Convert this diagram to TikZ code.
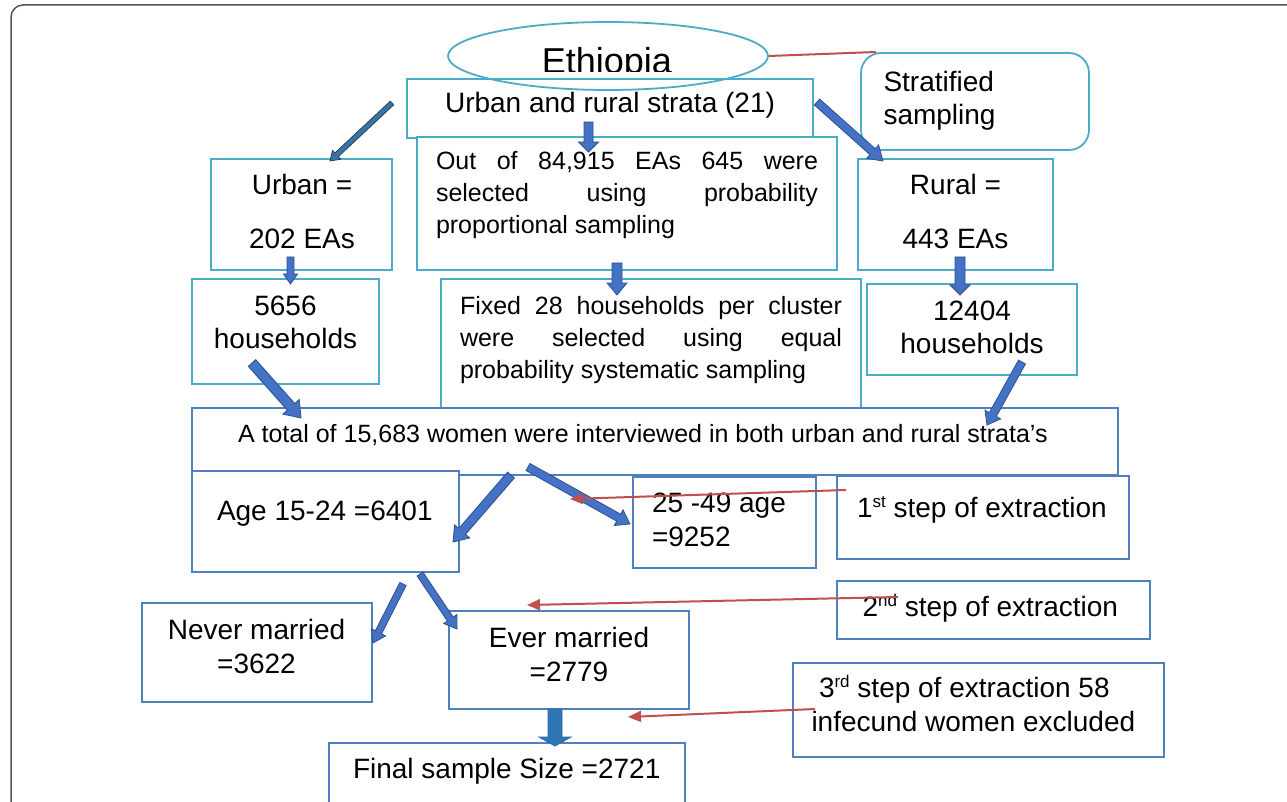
\documentclass[tikz,border=0pt]{standalone}
\usepackage{fontspec}
\setmainfont{Liberation Sans}
\usetikzlibrary{shapes.geometric,arrows.meta,calc}
\definecolor{tealc}{HTML}{4BACC6}
\definecolor{bluec}{HTML}{4F81BD}
\definecolor{redc}{HTML}{C0504D}
\definecolor{arrfill}{HTML}{4472C4}
\definecolor{arrdraw}{HTML}{2F528F}
\definecolor{arrfillA}{HTML}{3A74A0}
\definecolor{arrdrawA}{HTML}{1F4468}
\definecolor{arrfillF}{HTML}{2E75B6}
\definecolor{arrdrawF}{HTML}{2A68A4}
\definecolor{framec}{HTML}{555555}
\newcommand\fsz[1]{\fontsize{#1}{#1}\selectfont}
\newcommand\sups[1]{\raisebox{10pt}{\fsz{17}#1}}
\newcommand\blockarr[6][]{%
  \coordinate (bah) at ($(#3)!#6!(#2)$);
  \draw[#1] ($(#2)!#4!90:(#3)$) -- ($(bah)!#4!90:(#3)$) -- ($(bah)!#5!90:(#3)$) -- (#3)
    -- ($(bah)!#5!-90:(#3)$) -- ($(bah)!#4!-90:(#3)$) -- ($(#2)!#4!-90:(#3)$) -- cycle;}
\hbadness=10000
\begin{document}
\begin{tikzpicture}[x=1pt,y=-1pt,
  tbox/.style={draw=tealc, line width=1.8pt, fill=white, rectangle, inner sep=0pt, outer sep=0pt},
  bbox/.style={draw=bluec, line width=1.8pt, fill=white, rectangle, inner sep=0pt, outer sep=0pt},
  txt/.style={inner sep=0pt, outer sep=0pt, font=\fsz{28}},
  stxt/.style={inner sep=0pt, outer sep=0pt, font=\fsz{25}},
  redarr/.style={draw=redc, line width=2pt, -{Triangle[length=13pt,width=11pt]}},
  redline/.style={draw=redc, line width=2pt},
  barr/.style={fill=arrfill, draw=arrdraw, line width=0.8pt, line join=miter},
  barrA/.style={fill=arrfillA, draw=arrdrawA, line width=0.8pt, line join=miter},
  barrF/.style={fill=arrfillF, draw=arrdrawF, line width=0.8pt, line join=miter}]
\useasboundingbox (0,0) rectangle (1287,802);
\clip (0,0) rectangle (1287,802);
\fill[white] (0,0) rectangle (1287,802);
% outer frame
\draw[framec, line width=1.5pt, rounded corners=12pt] (11,830) -- (11,5) -- (1300,5);

% boxes
\node[tbox, minimum width=406, minimum height=59] (strata) at (610,108.5) {};
\node[tbox, minimum width=420, minimum height=133] (outof) at (627,203.5) {};
\node[tbox, minimum width=181, minimum height=111] (urban) at (301.5,214.5) {};
\node[tbox, minimum width=195, minimum height=111] (rural) at (955.5,214.5) {};
\node[tbox, minimum width=187, minimum height=105] (hh1) at (285.5,331.5) {};
\node[tbox, minimum width=420, minimum height=130] (fixed) at (651,344) {};
\node[tbox, minimum width=210, minimum height=91] (hh2) at (972,329.5) {};
\node[tbox, minimum width=228, minimum height=97, rounded corners=20pt] (strat) at (975,101.5) {};
\node[bbox, minimum width=926, minimum height=67] (total) at (655,441.5) {};
\node[bbox, minimum width=267, minimum height=101] (age) at (325.5,521.5) {};
\node[bbox, minimum width=183, minimum height=91] (older) at (724.5,522.5) {};
\node[bbox, minimum width=292, minimum height=83] (step1) at (983,517.5) {};
\node[bbox, minimum width=313, minimum height=58] (step2) at (993.5,610) {};
\node[bbox, minimum width=371, minimum height=94] (step3) at (978.5,710) {};
\node[bbox, minimum width=230, minimum height=99] (never) at (257,652.5) {};
\node[bbox, minimum width=240, minimum height=98] (ever) at (569,660) {};
\node[bbox, minimum width=356, minimum height=87] (final) at (507,786.5) {};

% Ethiopia ellipse
\node[ellipse, draw=tealc, line width=1.8pt, minimum width=320, minimum height=68, inner sep=0pt] (eth) at (608,56) {};
\begin{scope}
\clip (440,15) rectangle (780,72);
\node[inner sep=0pt, font=\fsz{36}, anchor=base west] (ethtxt) at (541.7,74) {Ethiopia};
\end{scope}

% texts
\node[txt, anchor=base] (tstrata) at (610,113) {Urban and rural strata (21)};
\node[stxt, anchor=base west] (tout1) at (436,170) {\makebox[382pt][s]{Out of 84,915 EAs 645 were}};
\node[stxt, anchor=base west] (tout2) at (436,202) {\makebox[382pt][s]{selected using probability}};
\node[stxt, anchor=base west] (tout3) at (436,234) {proportional sampling};
\node[txt, anchor=base] (turb1) at (302,195) {Urban =};
\node[txt, anchor=base] (turb2) at (302,249) {202 EAs};
\node[txt, anchor=base] (trur1) at (955.5,195) {Rural =};
\node[txt, anchor=base] (trur2) at (955.5,248.5) {443 EAs};
\node[txt, anchor=base] (thh1a) at (285.5,315) {5656};
\node[txt, anchor=base] (thh1b) at (285.5,348.5) {households};
\node[stxt, anchor=base west] (tfix1) at (460,314) {\makebox[382pt][s]{Fixed 28 households per cluster}};
\node[stxt, anchor=base west] (tfix2) at (460,346) {\makebox[382pt][s]{were selected using equal}};
\node[stxt, anchor=base west] (tfix3) at (460,378) {probability systematic sampling};
\node[txt, anchor=base] (thh2a) at (972,320) {12404};
\node[txt, anchor=base] (thh2b) at (972,353.5) {households};
\node[txt, anchor=base west] (tstr1) at (883.5,92) {Stratified};
\node[txt, anchor=base west] (tstr2) at (883.5,125) {sampling};
\node[stxt, anchor=base west] (ttotal) at (238,442) {A total of 15,683 women were interviewed in both urban and rural strata’s};
\node[txt, anchor=base west] (tage) at (217,520.5) {Age 15-24 =6401};
\node[txt, anchor=base west] (told1) at (652,512.5) {25 -49 age};
\node[txt, anchor=base west] (told2) at (652,546.5) {=9252};
\node[txt, anchor=base west] (tstep1) at (857,517.5) {1\sups{st} step of extraction};
\node[txt, anchor=base west] (tstep2) at (862.5,616.5) {2\sups{nd} step of extraction};
\node[txt, anchor=base west] (tstep3a) at (819,697.5) {3\sups{rd} step of extraction 58};
\node[txt, anchor=base west] (tstep3b) at (811.5,731.5) {infecund women excluded};
\node[txt, anchor=base] (tnev1) at (256.5,639) {Never married};
\node[txt, anchor=base] (tnev2) at (256.5,673.5) {=3622};
\node[txt, anchor=base] (tever1) at (569,647.5) {Ever married};
\node[txt, anchor=base] (tever2) at (569,681.5) {=2779};
\node[txt, anchor=base west] (tfinal) at (353,778.5) {Final sample Size =2721};

% block arrow end points
\coordinate (a1s) at (392,103);   \coordinate (a1e) at (330,161);
\coordinate (a2s) at (588.5,122); \coordinate (a2e) at (588.5,152);
\coordinate (a3s) at (817,102);   \coordinate (a3e) at (883,161);
\coordinate (a4s) at (290.5,257); \coordinate (a4e) at (290.5,284);
\coordinate (a5s) at (617,263);   \coordinate (a5e) at (617,295);
\coordinate (a6s) at (960,257);   \coordinate (a6e) at (960,295);
\coordinate (a7s) at (252,363);   \coordinate (a7e) at (301,418);
\coordinate (a8s) at (1022,362);  \coordinate (a8e) at (987,425);
\coordinate (a9s) at (511,475);   \coordinate (a9e) at (453,542);
\coordinate (a10s) at (528,467);  \coordinate (a10e) at (630,524);
\coordinate (a11s) at (403,584);  \coordinate (a11e) at (373,643);
\coordinate (a12s) at (420,574);  \coordinate (a12e) at (457,629);
\coordinate (a13s) at (555,709);  \coordinate (a13e) at (555,746);

\blockarr[barrA]{a1s}{a1e}{2.5pt}{6pt}{9pt}
\blockarr[barr]{a2s}{a2e}{4.5pt}{10pt}{10pt}
\blockarr[barr]{a3s}{a3e}{4pt}{9pt}{14pt}
\blockarr[barr]{a4s}{a4e}{3.5pt}{7pt}{10pt}
\blockarr[barr]{a5s}{a5e}{5pt}{10pt}{12pt}
\blockarr[barr]{a6s}{a6e}{5pt}{10pt}{10pt}
\blockarr[barr]{a7s}{a7e}{5pt}{11pt}{15pt}
\blockarr[barr]{a8s}{a8e}{4pt}{9pt}{12pt}
\blockarr[barr]{a9s}{a9e}{4.5pt}{10pt}{14pt}
\blockarr[barr]{a10s}{a10e}{4pt}{9pt}{13pt}
\blockarr[barr]{a11s}{a11e}{3.5pt}{8pt}{12pt}
\blockarr[barr]{a12s}{a12e}{3.5pt}{8pt}{12pt}
\blockarr[barrF]{a13s}{a13e}{7pt}{16pt}{9pt}

% red connectors
\coordinate (rl) at (876,52);
\draw[redline] (eth.east) -- (rl);
\coordinate (r1s) at (846,490); \coordinate (r1e) at (570,499);
\coordinate (r2s) at (898,597); \coordinate (r2e) at (527,605);
\coordinate (r3s) at (815,709); \coordinate (r3e) at (628,717);
\draw[redarr] (r1s) -- (r1e);
\draw[redarr] (r2s) -- (r2e);
\draw[redarr] (r3s) -- (r3e);
\end{tikzpicture}
\end{document}
